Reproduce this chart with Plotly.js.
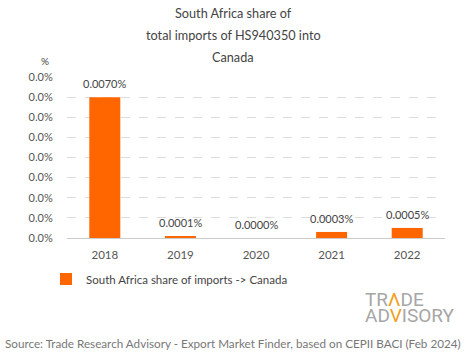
<!DOCTYPE html>
<html><head><meta charset="utf-8">
<script src="https://cdn.plot.ly/plotly-3.0.1.min.js"></script>
<style>html,body{margin:0;padding:0;background:#fff}#c{width:465px;height:359px}</style>
</head><body><div id="c"></div>
<script>
const years = ['2018','2019','2020','2021','2022'];
const shares = [0.0070, 0.0001, 0.0000, 0.0003, 0.0005];
const shareLabels = ['0.0070%','0.0001%','0.0000%','0.0003%','0.0005%'];
const yTicks = [0,0.001,0.002,0.003,0.004,0.005,0.006,0.007,0.008];
const yTickText = yTicks.map(()=> '0.0%');
const seriesName = 'South Africa share of imports -> Canada';
const titleLines = ['South Africa share of','total imports of HS940350 into','Canada'];

const F = 'Lato, "Noto Sans", sans-serif';
const LOGO = '"Liberation Sans Narrow", Roboto, sans-serif';
const T=77,B=238,H=B-T,L=67,W=378;
const px=(x)=>(x-L)/W, py=(y)=>(B-y)/H;
const ann = [];
titleLines.forEach((t,i)=>ann.push({xref:'paper',yref:'paper',x:px(233),xanchor:'center',y:py(13+22*i),yanchor:'middle',
  text:t,showarrow:false,font:{family:F,size:12.7,color:'#444'}}));
years.forEach((yr,i)=>ann.push({x:i,y:shares[i],xref:'x',yref:'y',text:shareLabels[i],showarrow:false,
  xanchor:'center',yanchor:'bottom',yshift:5,font:{family:F,size:11,color:'#444'}}));
ann.push({xref:'paper',yref:'paper',x:px(45),xanchor:'center',y:py(61),yanchor:'middle',text:'%',showarrow:false,
  font:{family:F,size:10,color:'#444'}});
ann.push({xref:'paper',yref:'paper',x:px(233),xanchor:'center',y:py(343),yanchor:'middle',
  text:'Source: Trade Research Advisory - Export Market Finder, based on CEPII BACI (Feb 2024)',
  showarrow:false,font:{family:F,size:11.7,color:'#777'}});
ann.push({xref:'paper',yref:'paper',x:px(363),xanchor:'left',y:py(299),yanchor:'middle',
  text:'TR<span style="color:#f0a020">Λ</span>DE',showarrow:false,font:{family:LOGO,size:19,color:'#a6a6a6'}});
ann.push({xref:'paper',yref:'paper',x:px(363),xanchor:'left',y:py(315.5),yanchor:'middle',
  text:'AD<span style="color:#f0a020">V</span>ISORY',showarrow:false,font:{family:LOGO,size:19,color:'#a6a6a6'}});

Plotly.newPlot('c',[{type:'bar',x:years,y:shares,name:seriesName,marker:{color:'#FF6600'},
  showlegend:true,hoverinfo:'none'}],{
  width:465,height:359,margin:{l:L,r:465-L-W,t:T,b:359-B},
  paper_bgcolor:'#fff',plot_bgcolor:'#fff',bargap:0.59,
  font:{family:F,size:11,color:'#555'},
  xaxis:{type:'category',range:[-0.5,4.5],showgrid:false,showline:true,linecolor:'#ccc',linewidth:1,ticks:'',
    tickfont:{family:F,size:11.5,color:'#555'},ticklabelstandoff:6},
  yaxis:{range:[0,0.008],tickvals:yTicks,ticktext:yTickText,showgrid:true,gridcolor:'#ddd',griddash:'dash',
    zeroline:false,ticks:'outside',ticklen:11,tickcolor:'rgba(0,0,0,0)',tickfont:{family:F,size:11,color:'#555'}},
  showlegend:true,
  legend:{orientation:'h',x:px(46),xanchor:'left',y:py(279),yanchor:'middle',
    font:{family:F,size:11.5,color:'#444'},bgcolor:'rgba(0,0,0,0)'},
  annotations:ann
},{staticPlot:true});
</script></body></html>
